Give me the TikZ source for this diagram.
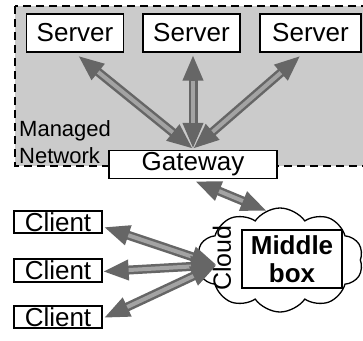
\documentclass[tikz,border=0pt]{standalone}
\usepackage{fontspec}
\setmainfont{Liberation Sans}
\usetikzlibrary{arrows.meta,shapes.symbols,calc}
\definecolor{netgray}{HTML}{CBCBCB}
\definecolor{arrdark}{HTML}{666666}
\definecolor{arrlight}{HTML}{A3A3A3}
\tikzset{
  box/.style={draw,line width=1.3pt,fill=white,inner sep=0pt,
    font=\fontsize{26}{28}\selectfont},
  linkouter/.style={line width=9pt,draw=arrdark,
    {Triangle[length=26pt,width=19pt]}-{Triangle[length=26pt,width=19pt]}},
  linkinner/.style={line width=4pt,draw=arrlight,shorten <=26pt,shorten >=26pt},
}
% two-tone double-headed link
\newcommand\netlink[2]{%
  \draw[linkouter] (#1) -- (#2);
  \draw[linkinner] (#1) -- (#2);}
\begin{document}
\begin{tikzpicture}[x=1pt,y=-1pt]
\useasboundingbox (0,0) rectangle (363,340);
% managed network area
\fill[netgray] (15,6) rectangle (370,166);
\draw[line width=1.5pt,dash pattern=on 8pt off 5pt] (15,6) rectangle (370,166);
\node[anchor=south west,inner sep=0pt,align=left,
  font=\fontsize{22}{27}\selectfont] (mn) at (19,164) {Managed\\Network};
% servers and gateway
\node[box,minimum width=97pt,minimum height=38pt] (s1) at (75,33) {Server};
\node[box,minimum width=97pt,minimum height=38pt] (s2) at (191.5,33) {Server};
\node[box,minimum width=101pt,minimum height=38pt] (s3) at (310.5,33) {Server};
\node[box,minimum width=168pt,minimum height=28pt] (gw) at (193,164.5) {Gateway};
% clients
\node[box,minimum width=88pt,minimum height=22pt] (c1) at (58,222) {Client};
\node[box,minimum width=88pt,minimum height=23pt] (c2) at (58,270.5) {Client};
\node[box,minimum width=88pt,minimum height=22pt] (c3) at (58,317) {Client};
% cloud with middlebox
\node[cloud,draw,line width=1.3pt,fill=white,cloud puffs=10,cloud puff arc=110,
  aspect=1.6,minimum width=166pt,minimum height=104pt,inner sep=0pt] (cl) at (280,260) {};
\node[box,minimum width=100pt,minimum height=58pt,align=center,
  font=\fontsize{26}{28}\selectfont\bfseries] (mb) at (292,259) {Middle\\box};
\node[rotate=90,inner sep=0pt,font=\fontsize{25}{28}\selectfont] (cw) at (222,258) {Cloud};
% link end points
\coordinate (t1) at ($(s1.south)+(3,3)$);
\coordinate (t2) at ($(s2.south)+(1.5,2)$);
\coordinate (t3) at ($(s3.south)+(-10,3)$);
\coordinate (gtop) at ($(gw.north)+(0,-1)$);
\coordinate (gbot) at ($(gw.south)+(2,2)$);
\coordinate (ctop) at (267,211);
\coordinate (hub) at (217,265);
\coordinate (e1) at ($(c1.east)+(1,5)$);
\coordinate (e2) at ($(c2.east)+(0,1)$);
\coordinate (e3) at ($(c3.east)+(1,1)$);
% links
\netlink{t1}{gtop}
\netlink{t2}{gtop}
\netlink{t3}{gtop}
\netlink{gbot}{ctop}
\netlink{e1}{hub}
\netlink{e2}{hub}
\netlink{e3}{hub}
\end{tikzpicture}
\end{document}
